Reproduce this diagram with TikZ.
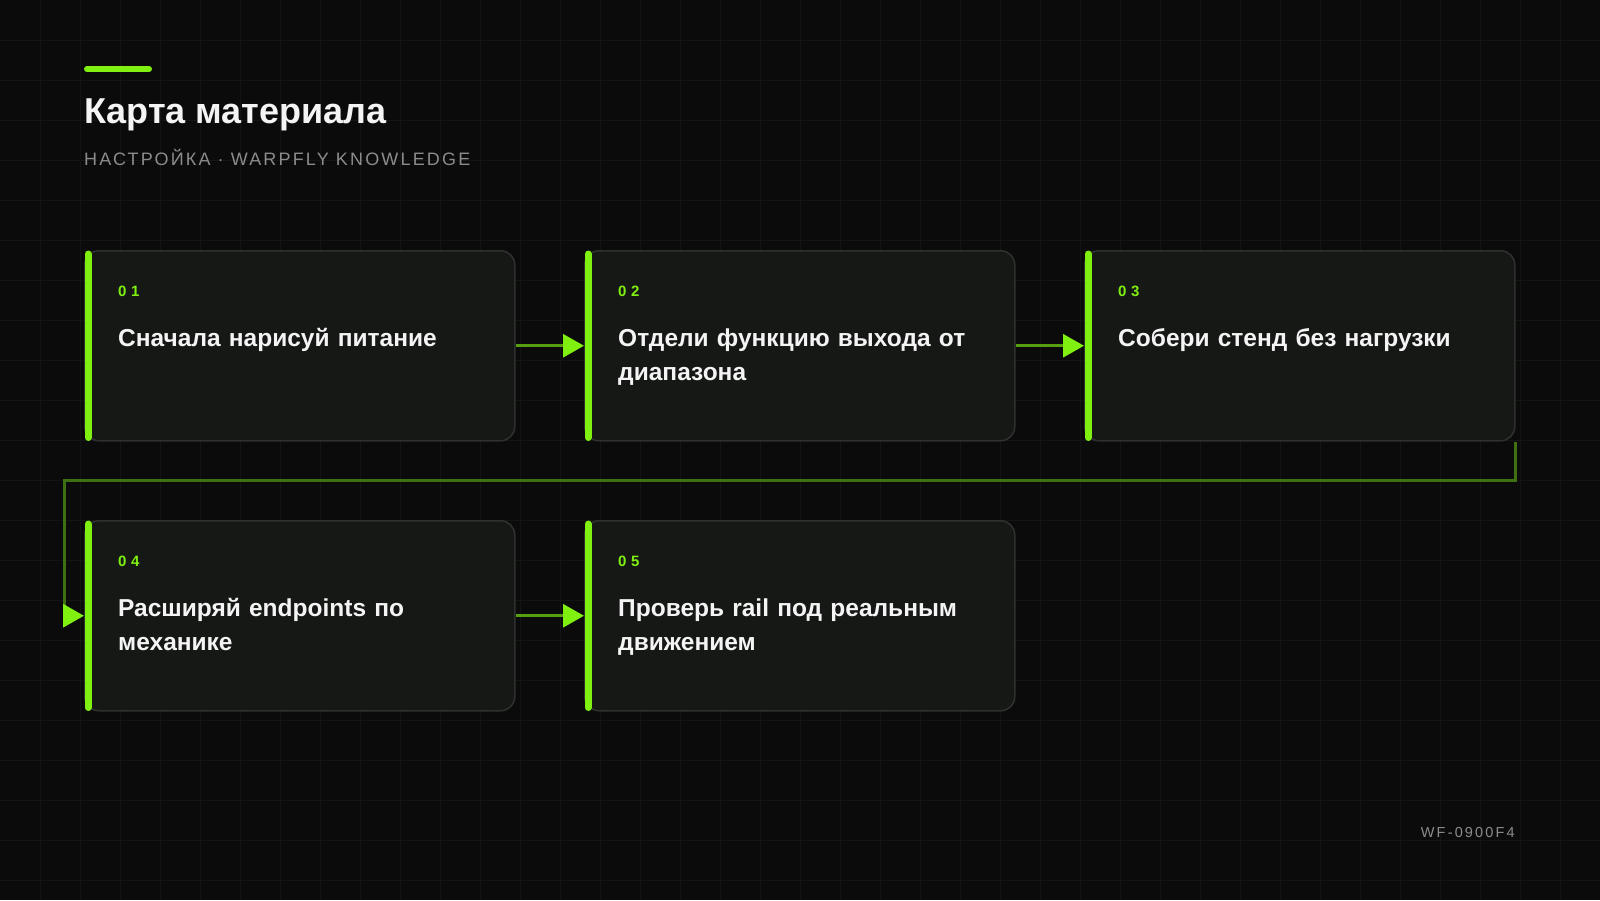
\documentclass[tikz,border=0pt]{standalone}
\usepackage{fontspec}
\setmainfont{Liberation Sans}
\newfontfamily\widefont[LetterSpace=12]{Liberation Sans}
\newfontfamily\codefont[LetterSpace=15]{Liberation Sans}
\newfontfamily\numfont[LetterSpace=30]{Liberation Sans}
\usetikzlibrary{calc,arrows.meta}

\definecolor{bgcol}{HTML}{0A0B0A}
\definecolor{gridcol}{HTML}{131513}
\definecolor{boxcol}{HTML}{161816}
\definecolor{edgecol}{HTML}{2E312E}
\definecolor{lime}{HTML}{80F010}
\definecolor{flowcol}{HTML}{56A00F}
\definecolor{dimcol}{HTML}{3F7112}
\definecolor{greytext}{HTML}{8C8C8C}
\definecolor{whitetext}{HTML}{F4F4F4}

\tikzset{
  stepbox/.style={draw=edgecol, line width=1.5, fill=boxcol, rounded corners=14,
    anchor=north west, minimum width=430, minimum height=190, inner sep=0},
  bar/.style={draw=lime, line width=7, line cap=round},
  num/.style={anchor=base west, inner sep=0, text=lime, font=\numfont\bfseries\fontsize{15}{18}\selectfont},
  txt/.style={anchor=base west, inner sep=0, text=whitetext, text width=368, align=left,
    font=\bfseries\fontsize{24.5}{34}\selectfont},
  flow/.style={draw=flowcol, line width=3, -{Triangle[length=21, width=23, color=lime]}},
  flowdim/.style={draw=dimcol, line width=3, -{Triangle[length=21, width=23, color=lime]}}
}

\begin{document}
\begin{tikzpicture}[x=1pt, y=-1pt]

\useasboundingbox (0,0) rectangle (1600,900);
\fill[bgcol] (0,0) rectangle (1600,900);

% faint grid
\foreach \gx in {40,80,...,1560}
  \draw[gridcol, line width=1] (\gx,0) -- (\gx,900);
\foreach \gy in {40,80,...,880}
  \draw[gridcol, line width=1] (0,\gy) -- (1600,\gy);

% heading
\draw[lime, line width=6, line cap=round] (87,69) -- (149,69);
\node[anchor=base west, inner sep=0, text=whitetext, font=\bfseries\fontsize{36}{40}\selectfont] (title) at (84,123) {Карта материала};
\node[anchor=base west, inner sep=0, text=greytext, font=\widefont\fontsize{18}{20}\selectfont] (subtitle) at (84,165) {НАСТРОЙКА · WARPFLY KNOWLEDGE};

% boxes
\node[stepbox] (s1) at (84,250) {};
\node[stepbox] (s2) at (584,250) {};
\node[stepbox] (s3) at (1084,250) {};
\node[stepbox] (s4) at (84,520) {};
\node[stepbox] (s5) at (584,520) {};

\draw[bar] ($(s1.north west)+(4,4)$) -- ($(s1.south west)+(4,-4)$);
\draw[bar] ($(s2.north west)+(4,4)$) -- ($(s2.south west)+(4,-4)$);
\draw[bar] ($(s3.north west)+(4,4)$) -- ($(s3.south west)+(4,-4)$);
\draw[bar] ($(s4.north west)+(4,4)$) -- ($(s4.south west)+(4,-4)$);
\draw[bar] ($(s5.north west)+(4,4)$) -- ($(s5.south west)+(4,-4)$);

\node[num] (n1) at ($(s1.north west)+(34,46)$) {01};
\node[num] (n2) at ($(s2.north west)+(34,46)$) {02};
\node[num] (n3) at ($(s3.north west)+(34,46)$) {03};
\node[num] (n4) at ($(s4.north west)+(34,46)$) {04};
\node[num] (n5) at ($(s5.north west)+(34,46)$) {05};

\node[txt] (t1) at ($(s1.north west)+(34,96)$) {Сначала нарисуй питание};
\node[txt] (t2) at ($(s2.north west)+(34,96)$) {Отдели функцию выхода от диапазона};
\node[txt] (t3) at ($(s3.north west)+(34,96)$) {Собери стенд без нагрузки};
\node[txt] (t4) at ($(s4.north west)+(34,96)$) {Расширяй endpoints по механике};
\node[txt] (t5) at ($(s5.north west)+(34,96)$) {Проверь rail под реальным движением};

% connectors
\coordinate (bend) at (64,480);
\draw[flow] (s1.east) -- (s2.west);
\draw[flow] (s2.east) -- (s3.west);
\draw[flowdim] (s3.south east) |- (bend) |- (s4.west);
\draw[flow] (s4.east) -- (s5.west);

% footer
\node[anchor=base east, inner sep=0, text=greytext, font=\codefont\fontsize{14.5}{17}\selectfont] (code) at (1515,837) {WF-0900F4};

\end{tikzpicture}
\end{document}
